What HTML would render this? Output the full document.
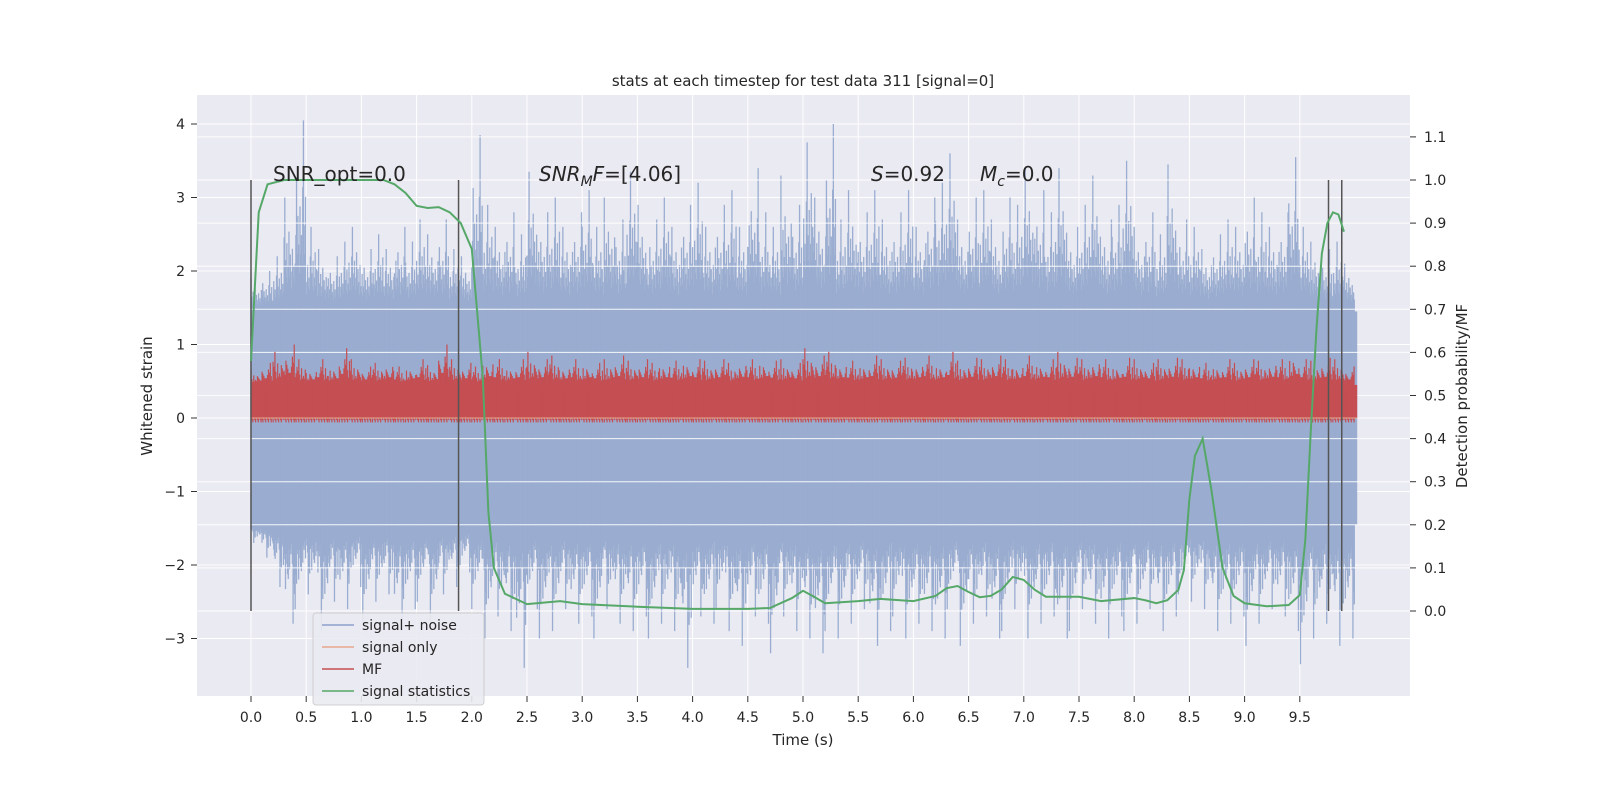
<!DOCTYPE html>
<html><head><meta charset="utf-8"><style>
body{margin:0;background:#fff;}
svg text{font-family:"DejaVu Sans","Liberation Sans",sans-serif;fill:#262626;}
</style></head><body>
<svg id="chart" width="1600" height="800" xmlns="http://www.w3.org/2000/svg">
<rect width="1600" height="800" fill="#fff"/>
<rect x="197" y="95" width="1213" height="601" fill="#eaeaf2"/>
<g id="grid"></g>
<g id="noise"></g>
<g id="mf"></g>
<g id="vlines"></g>
<g id="stat"></g>
<g id="axes"></g>
<text x="803" y="86" font-size="15" text-anchor="middle">stats at each timestep for test data 311 [signal=0]</text>
<text x="803" y="745" font-size="15" text-anchor="middle">Time (s)</text>
<text transform="translate(152,396) rotate(-90)" font-size="15" text-anchor="middle">Whitened strain</text>
<text transform="translate(1467,396) rotate(-90)" font-size="15" text-anchor="middle">Detection probability/MF</text>
<text x="273" y="181" font-size="20">SNR_opt=0.0</text>
<text x="539" y="181" font-size="20"><tspan font-style="italic">SNR</tspan><tspan font-style="italic" font-size="14" dy="5">M</tspan><tspan font-style="italic" dy="-5">F</tspan>=[4.06]</text>
<text x="871" y="181" font-size="20"><tspan font-style="italic">S</tspan>=0.92</text>
<text x="980" y="181" font-size="20"><tspan font-style="italic">M</tspan><tspan font-style="italic" font-size="14" dy="5">c</tspan><tspan dy="-5">=0.0</tspan></text>
<g>
<rect x="313" y="613" width="171" height="92" rx="3" fill="#eaeaf2" stroke="#cccccc" opacity="0.9"/>
<line x1="322" y1="625" x2="354" y2="625" stroke="#8da0cb" stroke-width="1.5"/>
<text x="362" y="630" font-size="14">signal+ noise</text>
<line x1="322" y1="647" x2="354" y2="647" stroke="#e8a88e" stroke-width="1.5"/>
<text x="362" y="652" font-size="14">signal only</text>
<line x1="322" y1="669" x2="354" y2="669" stroke="#c44e52" stroke-width="1.5"/>
<text x="362" y="674" font-size="14">MF</text>
<line x1="322" y1="691" x2="354" y2="691" stroke="#55a868" stroke-width="1.5"/>
<text x="362" y="696" font-size="14">signal statistics</text>
</g>
</svg>
<script>
const noiseHi=[1.9,2.0,2.2,3.0,4.05,2.6,2.3,2.2,2.4,2.6,2.3,2.5,2.3,2.6,2.4,2.7,2.5,2.7,2.3,2.2,3.85,2.9,2.6,2.8,2.5,3.35,2.8,3.0,2.6,2.8,3.1,2.6,3.0,2.7,3.35,2.9,2.7,3.0,2.6,2.9,3.2,2.6,2.9,3.1,2.6,3.4,2.8,2.6,3.3,2.9,3.75,3.0,4.0,2.7,3.1,2.8,3.1,2.7,2.8,3.1,2.6,3.0,3.2,3.6,2.7,3.0,3.1,2.7,3.0,2.9,3.4,3.1,2.8,3.4,2.6,2.9,3.3,2.7,2.9,3.5,2.6,2.8,2.5,3.45,2.7,2.6,2.3,2.5,2.7,2.6,3.0,2.8,2.6,2.8,3.55,2.6,2.4,2.3,2.4,2.1];
const noiseLo=[-1.7,-1.9,-2.3,-2.8,-2.6,-2.4,-2.9,-2.5,-2.6,-2.3,-2.8,-2.5,-2.4,-2.9,-2.6,-2.5,-2.8,-2.4,-2.3,-2.1,-2.6,-3.0,-2.7,-2.9,-3.4,-2.6,-3.0,-2.9,-2.6,-2.8,-2.7,-3.0,-2.6,-2.8,-2.9,-2.7,-3.0,-2.8,-2.9,-3.4,-2.7,-2.8,-2.6,-2.9,-3.1,-2.7,-2.8,-3.2,-2.7,-2.9,-3.0,-3.2,-2.9,-3.0,-2.8,-2.6,-3.1,-2.9,-2.7,-3.0,-2.8,-2.9,-3.0,-2.6,-3.1,-2.8,-2.7,-3.0,-2.9,-2.6,-3.0,-2.8,-2.7,-3.0,-2.9,-2.6,-2.8,-3.0,-2.7,-2.9,-2.8,-2.6,-2.9,-2.7,-2.4,-2.5,-2.6,-2.9,-2.8,-2.7,-3.1,-2.8,-2.6,-2.7,-2.9,-3.35,-3.0,-2.8,-3.1,-3.0];
const mfHi=[0.65,0.75,0.9,1.0,0.8,0.7,0.8,0.75,0.95,0.8,0.7,0.75,0.8,0.7,0.75,0.8,0.72,1.0,0.8,0.75,0.7,0.85,0.8,0.75,0.8,0.9,0.8,0.85,0.75,0.8,0.8,0.75,0.8,0.85,0.78,0.8,0.75,0.8,0.78,0.85,0.8,0.78,0.8,0.75,0.82,0.8,0.85,0.78,0.8,0.75,0.95,0.85,0.9,0.8,0.78,0.8,0.85,0.8,0.78,0.82,0.8,0.85,0.8,0.9,0.78,0.82,0.8,0.85,0.8,0.78,0.85,0.82,0.8,0.9,0.82,0.8,0.85,0.8,0.78,0.82,0.8,0.75,0.8,0.82,0.8,0.8,0.75,0.78,0.8,0.75,0.8,0.78,0.82,0.8,0.95,0.8,0.78,0.82,0.8,0.7];
const statT=[0,0.07,0.15,0.3,1.2,1.3,1.4,1.5,1.6,1.7,1.8,1.9,2.0,2.1,2.15,2.2,2.3,2.5,2.8,3.0,3.5,4.0,4.5,4.7,4.9,5.0,5.1,5.2,5.5,5.7,6.0,6.2,6.3,6.4,6.5,6.6,6.7,6.8,6.9,7.0,7.1,7.2,7.5,7.7,8.0,8.1,8.2,8.3,8.4,8.45,8.5,8.55,8.62,8.7,8.8,8.9,9.0,9.2,9.4,9.5,9.55,9.6,9.65,9.7,9.75,9.8,9.85,9.9];
const statV=[0.58,0.925,0.99,1.0,1.0,0.99,0.97,0.94,0.935,0.937,0.925,0.9,0.84,0.54,0.23,0.1,0.04,0.016,0.023,0.016,0.01,0.005,0.005,0.007,0.03,0.047,0.033,0.018,0.023,0.028,0.023,0.035,0.053,0.058,0.044,0.032,0.035,0.05,0.079,0.072,0.049,0.033,0.033,0.023,0.03,0.025,0.018,0.025,0.049,0.095,0.26,0.36,0.40,0.28,0.10,0.035,0.018,0.011,0.014,0.037,0.165,0.42,0.65,0.83,0.9,0.925,0.92,0.88];
const xTicks=[0,0.5,1,1.5,2,2.5,3,3.5,4,4.5,5,5.5,6,6.5,7,7.5,8,8.5,9,9.5];
const yTicks=[-3,-2,-1,0,1,2,3,4];
const y2Ticks=[0,0.1,0.2,0.3,0.4,0.5,0.6,0.7,0.8,0.9,1.0,1.1];
const markerTimes=[0,1.88,9.76,9.88];

const X=t=>251+t*110.4;
const Y=v=>418-v*73.5;
const Y2=p=>611-p*431;
const NS="http://www.w3.org/2000/svg";
function mk(tag,parent,attrs){const e=document.createElementNS(NS,tag);for(const k in attrs)e.setAttribute(k,attrs[k]);document.getElementById(parent).appendChild(e);return e;}

for(const t of xTicks){const l=mk('line','grid',{x1:X(t),x2:X(t),y1:95,y2:696,stroke:'#fff','stroke-width':1});

}
for(const v of yTicks){const l=mk('line','grid',{x1:197,x2:1410,y1:Y(v),y2:Y(v),stroke:'#fff','stroke-width':1});

}

const band=mk('rect','noise',{x:X(0),width:X(10.02)-X(0),y:Y(1.45),height:Y(-1.45)-Y(1.45),fill:'#9aadd0'});


const frac=[1,0.45,0.3,0.6,0.25,0.4,0.7,0.3,0.5,0.35,0.2,0.55,0.3,0.4,0.25,0.65];
noiseHi.forEach((h,i)=>{
  const lo=noiseLo[i];
  for(let k=0;k<16;k++){
    const tt=i*0.1+k*0.00625;
    const fu=frac[(k+i*5)%16], fd=frac[(k*3+i*7+4)%16];
    const l=mk('line','noise',{x1:X(tt),x2:X(tt),y1:Y(1.45+(h-1.45)*fu),y2:Y(-1.45+(lo+1.45)*fd),stroke:'#9aadd0','stroke-width':1.3});
    
    
  }
});
for(const p of y2Ticks){const l=mk('line','noise',{x1:197,x2:1410,y1:Y2(p),y2:Y2(p),stroke:'#fff','stroke-width':1,opacity:0.9});

}

const mfb=mk('rect','mf',{x:X(0),width:X(10.02)-X(0),y:Y(0.45),height:Y(0)-Y(0.45),fill:'#c44e52'});


mfHi.forEach((h,i)=>{
  for(let k=0;k<12;k++){
    const tt=i*0.1+k*0.00833;
    const f=frac[(k*5+i*3)%16];
    const l=mk('line','mf',{x1:X(tt),x2:X(tt),y1:Y(0.45+(h-0.45)*f),y2:Y(-0.03*((k+i)%3)),stroke:'#c44e52','stroke-width':1.2});
    
    
  }
});
const so=mk('line','mf',{x1:X(0),x2:X(10.02),y1:Y(0),y2:Y(0),stroke:'#e8a88e','stroke-width':1});



for(const t of markerTimes){const l=mk('line','vlines',{x1:X(t),x2:X(t),y1:Y2(1),y2:Y2(0),stroke:'#555','stroke-width':1.5});

}

const pts=statT.map((t,i)=>X(t)+','+Y2(statV[i])).join(' ');
const pl=mk('polyline','stat',{points:pts,fill:'none',stroke:'#55a868','stroke-width':2});



for(const t of xTicks){
  const tk=mk('line','axes',{x1:X(t),x2:X(t),y1:696,y2:702,stroke:'#333'});
  
  
  const tx=mk('text','axes',{x:X(t),y:722,'font-size':14,'text-anchor':'middle'});tx.textContent=t.toFixed(1);
  
  
}
for(const v of yTicks){
  const tk=mk('line','axes',{x1:191,x2:197,y1:Y(v),y2:Y(v),stroke:'#333'});
  
  
  const tx=mk('text','axes',{x:185,y:Y(v)+5,'font-size':14,'text-anchor':'end'});tx.textContent=(v<0?'\u2212'+(-v):v);
  
  
}
for(const p of y2Ticks){
  const tk=mk('line','axes',{x1:1410,x2:1416,y1:Y2(p),y2:Y2(p),stroke:'#333'});
  
  
  const tx=mk('text','axes',{x:1424,y:Y2(p)+5,'font-size':14});tx.textContent=p.toFixed(1);
  
  
}
</script>
</body></html>
